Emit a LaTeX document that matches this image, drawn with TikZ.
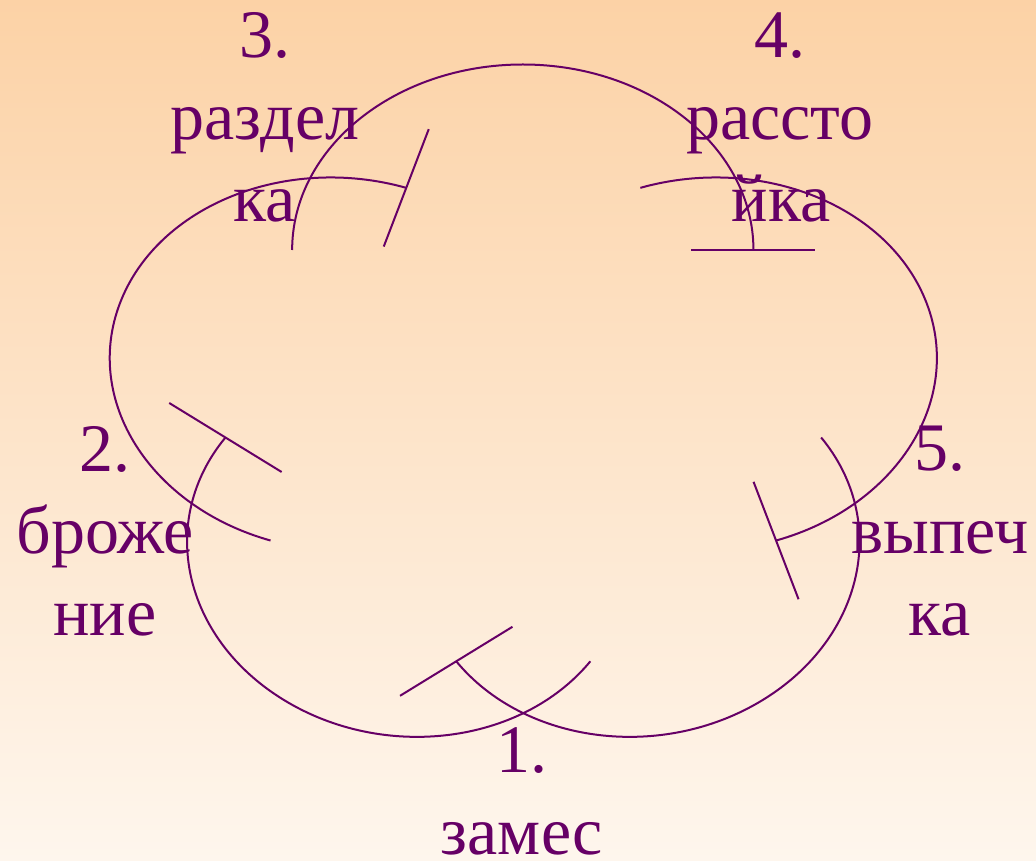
\documentclass[tikz,border=0pt]{standalone}
\usepackage{fontspec}
\setmainfont{Liberation Serif}
\usetikzlibrary{calc}
\definecolor{plum}{RGB}{102,0,102}
\definecolor{bgtop}{RGB}{252,210,166}
\definecolor{bgbot}{RGB}{254,246,237}
\begin{document}
\begin{tikzpicture}[x=1pt,y=1pt,
  arcline/.style={draw=plum, line width=2pt},
  lbl/.style={text=plum, font=\fontsize{68}{82}\selectfont, inner sep=0pt, anchor=base}]
\useasboundingbox (0,0) rectangle (1036,860);
\shade[top color=bgtop, bottom color=bgbot] (0,0) rectangle (1036,860);

% top arc (4)
\draw[arcline] (522.8,610) ++(180:230.65 and 185.5)
  arc[start angle=180, end angle=0, x radius=230.65, y radius=185.5] coordinate (Dend);
% upper-left arc (3)
\begin{scope}[shift={(338.4,495.8)}, rotate=-4.62]
\draw[arcline] (256.5:228.9 and 186.4)
  arc[start angle=256.5, end angle=76.5, x radius=228.9, y radius=186.4] coordinate (Cend);
\end{scope}
% upper-right arc (5)
\begin{scope}[shift={(708.2,495.8)}, rotate=4.62]
\draw[arcline] (103.5:228.9 and 186.4)
  arc[start angle=103.5, end angle=-76.5, x radius=228.9, y radius=186.4] coordinate (Eend);
\end{scope}
% lower-left arc (2)
\begin{scope}[shift={(407.9,310.6)}, rotate=-7.07]
\draw[arcline] (-28.3:221.3 and 186.9)
  arc[start angle=-28.3, end angle=-208.3, x radius=221.3, y radius=186.9] coordinate (Bend);
\end{scope}
% lower-right arc (1)
\begin{scope}[shift={(638.7,310.6)}, rotate=7.07]
\draw[arcline] (28.3:221.3 and 186.9)
  arc[start angle=28.3, end angle=-151.7, x radius=221.3, y radius=186.9] coordinate (Aend);
\end{scope}

% end bars
\draw[arcline] ($(Dend)+(-62,0)$) -- ($(Dend)+(62,0)$);
\draw[arcline] ($(Cend)+(22.5,58.7)$) -- ($(Cend)+(-22.5,-58.7)$);
\draw[arcline] ($(Eend)+(-22.5,58.7)$) -- ($(Eend)+(22.5,-58.7)$);
\draw[arcline] ($(Bend)+(-56.2,34.5)$) -- ($(Bend)+(56.2,-34.5)$);
\draw[arcline] ($(Aend)+(56.2,34.5)$) -- ($(Aend)+(-56.2,-34.5)$);

% labels
\node[lbl] (n3a) at (265,802) {3.};
\node[lbl] (n3b) at (265,720) {раздел};
\node[lbl] (n3c) at (265,638) {ка};
\node[lbl] (n4a) at (780,802) {4.};
\node[lbl] (n4b) at (780,720) {рассто};
\node[lbl] (n4c) at (781,638) {йка};
\node[lbl] (n2a) at (105,388) {2.};
\node[lbl] (n2b) at (105,306) {броже};
\node[lbl] (n2c) at (105,224) {ние};
\node[lbl] (n5a) at (940,389) {5.};
\node[lbl] (n5b) at (940,306) {выпеч};
\node[lbl] (n5c) at (940,225) {ка};
\node[lbl] (n1a) at (522,88) {1.};
\node[lbl] (n1b) at (522,6) {замес};
\end{tikzpicture}
\end{document}
